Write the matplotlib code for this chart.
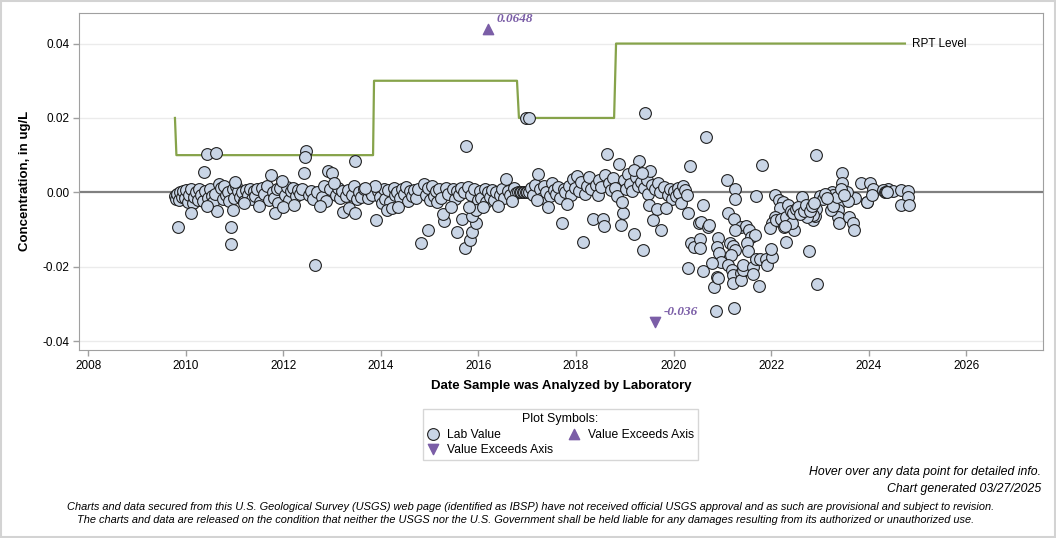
import numpy as np
import matplotlib.pyplot as plt
from matplotlib.patches import Rectangle

plt.rcParams['font.family'] = ['Liberation Sans', 'DejaVu Sans']

# lab values, ug/L, by decimal year of analysis
band_a_yr = [2009.78, 2009.80, 2009.83, 2009.86, 2009.89, 2009.92, 2009.95, 2009.98, 2010.01, 2010.04,
             2010.07, 2010.10, 2010.14, 2010.17, 2010.21, 2010.25, 2010.28, 2010.31, 2010.35, 2010.40,
             2010.46, 2010.50, 2010.53, 2010.57, 2010.60, 2010.68, 2010.72, 2010.76, 2010.79, 2010.83,
             2010.86, 2010.89, 2010.96, 2011.00, 2011.04, 2011.08, 2011.12, 2011.15, 2011.19, 2011.23,
             2011.27, 2011.31, 2011.35, 2011.39, 2011.43, 2011.47, 2011.53, 2011.57, 2011.61, 2011.66,
             2011.70, 2011.79, 2011.82, 2011.87, 2011.90, 2011.94, 2012.04, 2012.08, 2012.12, 2012.16,
             2012.20, 2012.26, 2012.30, 2012.34, 2012.38, 2012.52, 2012.56, 2012.60, 2012.70, 2012.80,
             2012.84, 2012.88, 2012.96, 2013.08, 2013.12, 2013.16, 2013.20, 2013.28, 2013.32, 2013.40,
             2013.44, 2013.52, 2013.56, 2013.60, 2013.65, 2013.73, 2013.77, 2013.81]
band_a_val = [-0.0010, -0.0018, -0.0005, -0.0020, 0.0000, -0.0012, 0.0004, -0.0015, 0.0006, -0.0025,
              -0.0008, 0.0010, -0.0030, -0.0012, 0.0002, -0.0020, 0.0008, -0.0006, -0.0022, 0.0003,
              -0.0015, 0.0008, -0.0010, -0.0025, -0.0005, 0.0022, 0.0012, -0.0018, 0.0016, -0.0008,
              0.0002, -0.0024, 0.0008, -0.0015, 0.0018, 0.0004, -0.0012, 0.0000, -0.0022, 0.0006,
              -0.0008, 0.0010, -0.0018, 0.0004, -0.0010, 0.0008, -0.0025, 0.0012, -0.0004, 0.0016,
              -0.0020, 0.0002, -0.0016, 0.0008, -0.0028, 0.0012, -0.0006, 0.0014, -0.0020, 0.0004,
              0.0012, -0.0010, 0.0006, -0.0004, 0.0008, -0.0006, 0.0004, -0.0018, 0.0002, -0.0012,
              0.0016, -0.0024, 0.0010, -0.0008, 0.0012, -0.0014, 0.0004, -0.0010, 0.0006, -0.0006,
              0.0016, -0.0018, 0.0002, -0.0012, 0.0008, -0.0014, 0.0004, -0.0008]

band_b_yr = [2013.94, 2013.98, 2014.02, 2014.06, 2014.09, 2014.15, 2014.18, 2014.26, 2014.30, 2014.33,
             2014.40, 2014.44, 2014.48, 2014.52, 2014.56, 2014.60, 2014.64, 2014.68, 2014.72, 2014.76,
             2014.88, 2014.92, 2014.96, 2015.00, 2015.04, 2015.08, 2015.12, 2015.16, 2015.20, 2015.24,
             2015.34, 2015.38, 2015.48, 2015.52, 2015.56, 2015.61, 2015.64, 2015.70, 2015.78, 2015.84,
             2015.90, 2015.99, 2016.03, 2016.06, 2016.13, 2016.16, 2016.20, 2016.24, 2016.28, 2016.32,
             2016.36, 2016.45, 2016.49, 2016.53, 2016.61, 2016.64, 2016.72, 2016.76,
             2016.82, 2016.85, 2016.88, 2016.91, 2016.94, 2016.97, 2017.00, 2017.03]
band_b_val = [0.0004, -0.0012, -0.0030, 0.0010, -0.0018, 0.0006, -0.0025, 0.0012, -0.0008, 0.0002,
              -0.0016, 0.0008, -0.0004, 0.0014, -0.0022, 0.0004, -0.0010, 0.0006, -0.0014, 0.0010,
              0.0022, -0.0006, 0.0012, -0.0020, 0.0016, -0.0010, 0.0004, -0.0026, 0.0008, -0.0014,
              0.0012, -0.0004, 0.0010, -0.0018, 0.0004, -0.0008, 0.0012, 0.0002, 0.0014, -0.0006,
              0.0010, -0.0020, 0.0004, -0.0014, 0.0008, -0.0026, 0.0000, -0.0012, 0.0006, -0.0020,
              0.0002, -0.0008, 0.0010, -0.0016, 0.0004, -0.0006, 0.0012, -0.0002,
              0.0, 0.0, 0.0, 0.0, 0.0, 0.0, 0.0, 0.0]

band_c_yr = [2017.08, 2017.12, 2017.15, 2017.27, 2017.31, 2017.35, 2017.39, 2017.47, 2017.51, 2017.55,
             2017.59, 2017.63, 2017.67, 2017.75, 2017.78, 2017.86, 2017.90, 2017.94, 2017.98, 2018.02,
             2018.06, 2018.10, 2018.18, 2018.22, 2018.26, 2018.30, 2018.40, 2018.44, 2018.48, 2018.52,
             2018.60, 2018.68, 2018.72, 2018.76, 2018.80, 2018.84, 2018.99, 2019.03, 2019.07, 2019.11,
             2019.14, 2019.22, 2019.26, 2019.33, 2019.40, 2019.45, 2019.48, 2019.55, 2019.61, 2019.68,
             2019.72, 2019.80, 2019.88, 2019.92, 2019.96, 2020.00, 2020.04, 2020.08, 2020.12, 2020.16,
             2020.20, 2020.24, 2020.28]
band_c_val = [0.0012, -0.0006, 0.0020, 0.0008, -0.0014, 0.0016, 0.0002, -0.0010, 0.0024, 0.0006,
              -0.0004, 0.0014, -0.0016, 0.0010, 0.0002, 0.0018, -0.0008, 0.0036, 0.0012, 0.0044,
              0.0004, 0.0028, -0.0004, 0.0016, 0.0040, 0.0008, 0.0020, -0.0006, 0.0034, 0.0014,
              0.0046, 0.0024, 0.0006, 0.0038, 0.0012, -0.0010, 0.0032, 0.0010, 0.0048, 0.0022,
              0.0004, 0.0040, 0.0018, 0.0028, 0.0012, 0.0032, -0.0004, 0.0020, 0.0008, 0.0024,
              0.0002, 0.0014, -0.0006, 0.0010, -0.0018, 0.0004, -0.0010, 0.0012, -0.0002, -0.0030,
              0.0016, 0.0006, -0.0008]

scatter_yr = [2009.85, 2010.44, 2010.62, 2010.38, 2010.93, 2010.92, 2010.10, 2010.65, 2010.98, 2010.44,
              2011.75, 2011.98, 2011.84, 2012.00, 2011.20, 2011.50, 2011.01, 2012.47, 2012.45, 2012.43,
              2013.48, 2012.92, 2012.99, 2013.04, 2012.65, 2013.90, 2012.75, 2013.23, 2013.35, 2013.46,
              2012.22, 2014.12, 2014.22, 2014.36, 2014.82, 2013.87, 2013.68, 2015.75, 2014.97, 2015.30,
              2015.28, 2015.44, 2015.57, 2015.67, 2015.73, 2015.83, 2015.87, 2015.95, 2015.86, 2015.95,
              2015.81, 2016.10, 2016.57, 2016.41, 2016.68, 2017.23, 2017.19, 2016.98, 2017.04, 2018.64,
              2018.89, 2019.30, 2019.42, 2020.34, 2019.18, 2019.52, 2019.36, 2017.71, 2018.14, 2018.35,
              2018.56, 2018.58, 2018.92, 2018.97, 2018.95, 2019.18, 2019.38, 2019.58, 2019.74, 2019.50,
              2019.65, 2019.84, 2017.82, 2017.43, 2020.67, 2021.82, 2021.10, 2021.25, 2021.25, 2021.69,
              2020.30, 2020.61, 2021.12, 2021.24, 2020.51, 2020.57, 2020.71, 2020.72, 2020.35, 2020.41,
              2020.54, 2020.54, 2020.30, 2020.61, 2020.82, 2020.88, 2020.91, 2020.87, 2021.24, 2020.90,
              2020.88, 2020.94, 2020.97, 2020.78, 2021.16, 2021.22, 2021.26, 2021.17, 2021.12, 2021.19,
              2021.21, 2021.22, 2021.38, 2021.39, 2021.43, 2021.43, 2021.63, 2021.62, 2021.75, 2021.38,
              2021.49, 2021.55, 2021.58, 2021.66, 2021.51, 2021.53, 2021.69, 2021.78, 2021.89, 2021.92,
              2022.01, 2021.99, 2021.26, 2022.08, 2022.15, 2022.25, 2022.17, 2022.07, 2022.01, 2021.98,
              2022.10, 2022.20, 2022.30, 2022.26, 2022.30, 2022.93, 2022.78, 2022.92, 2023.46, 2023.46,
              2023.36, 2023.36, 2023.36, 2023.38, 2023.60, 2023.68, 2023.70, 2023.96, 2023.22, 2023.27,
              2023.72, 2023.85, 2024.02, 2024.09, 2024.40, 2024.50, 2024.30, 2022.47, 2022.43, 2022.28,
              2022.86, 2022.90, 2022.92, 2022.85, 2022.74, 2022.64, 2022.64, 2023.00, 2023.07, 2023.24,
              2023.27, 2023.34, 2023.55, 2023.58, 2024.65, 2024.81, 2024.80, 2024.66, 2024.82, 2023.97,
              2024.06, 2022.35, 2022.40, 2022.45, 2022.50, 2022.55, 2022.60, 2022.68, 2022.72, 2022.80,
              2022.83, 2022.88, 2024.33, 2024.35, 2024.37, 2023.10, 2023.15, 2023.42, 2023.50]
scatter_val = [-0.0094, 0.0103, 0.0106, 0.0056, -0.0094, -0.0140, -0.0056, -0.0050, -0.0048, -0.0038,
               0.0046, 0.0031, -0.0056, -0.0040, -0.0030, -0.0038, 0.0028, 0.0110, 0.0094, 0.0051,
               0.0083, 0.0057, 0.0051, 0.0026, -0.0196, -0.0074, -0.0037, -0.0052, -0.0043, -0.0055,
               -0.0034, -0.0048, -0.0043, -0.0040, -0.0137, 0.0017, 0.0011, 0.0124, -0.0101, -0.0076,
               -0.0057, -0.0040, -0.0107, -0.0072, -0.0150, -0.0128, -0.0108, -0.0082, -0.0063, -0.0048,
               -0.0040, -0.0040, 0.0035, -0.0037, -0.0023, 0.0049, -0.0021, 0.0199, 0.0199, 0.0102,
               0.0076, 0.0084, 0.0212, 0.0071, 0.0060, 0.0057, 0.0051, -0.0083, -0.0134, -0.0072,
               -0.0072, -0.0090, -0.0089, -0.0056, -0.0026, -0.0113, -0.0156, -0.0074, -0.0101, -0.0035,
               -0.0046, -0.0043, -0.0032, -0.0039, 0.0148, 0.0073, 0.0032, 0.0008, -0.0017, -0.0010,
               -0.0056, -0.0035, -0.0055, -0.0073, -0.0082, -0.0080, -0.0092, -0.0089, -0.0137, -0.0146,
               -0.0126, -0.0150, -0.0204, -0.0212, -0.0254, -0.0227, -0.0230, -0.0320, -0.0312, -0.0124,
               -0.0146, -0.0162, -0.0187, -0.0191, -0.0137, -0.0144, -0.0155, -0.0169, -0.0195, -0.0209,
               -0.0222, -0.0245, -0.0218, -0.0236, -0.0209, -0.0195, -0.0200, -0.0220, -0.0252, -0.0092,
               -0.0090, -0.0101, -0.0119, -0.0115, -0.0135, -0.0157, -0.0178, -0.0178, -0.0180, -0.0195,
               -0.0173, -0.0153, -0.0101, -0.0007, -0.0020, -0.0025, -0.0043, -0.0066, -0.0083, -0.0097,
               -0.0074, -0.0073, -0.0066, -0.0092, -0.0133, -0.0247, -0.0158, 0.0100, 0.0053, 0.0026,
               -0.0034, -0.0048, -0.0066, -0.0082, -0.0066, -0.0082, -0.0101, -0.0025, -0.0048, -0.0037,
               -0.0015, 0.0024, 0.0024, 0.0008, 0.0008, 0.0004, 0.0006, -0.0101, -0.0082, -0.0091,
               -0.0074, -0.0063, -0.0045, -0.0061, -0.0067, -0.0046, -0.0013, -0.0010, -0.0019, 0.0002,
               -0.0007, -0.0013, 0.0002, -0.0023, 0.0006, 0.0003, -0.0013, -0.0034, -0.0034, -0.0025,
               -0.0007, -0.0035, -0.0050, -0.0055, -0.0045, -0.0040, -0.0058, -0.0050, -0.0035, -0.0050,
               -0.0038, -0.0028, 0.0, 0.0, 0.0, -0.0004, -0.0016, 0.0010, -0.0008]

# values beyond the axis range
up_yr, up_val, up_label = 2016.20, 0.0439, '0.0648'
down_yr, down_val, down_label = 2019.62, -0.0349, '-0.036'

# reporting level steps
rpt_yr = [2009.78, 2009.81, 2013.84, 2013.86, 2016.79, 2016.83, 2018.78, 2018.82, 2024.74]
rpt_val = [0.02, 0.01, 0.01, 0.03, 0.03, 0.02, 0.02, 0.04, 0.04]

years = np.array(band_a_yr + band_b_yr + band_c_yr + scatter_yr)
conc = np.array(band_a_val + band_b_val + band_c_val + scatter_val)

fig = plt.figure(figsize=(10.56, 5.38), dpi=100)
ax = fig.add_axes([0.0751, 0.3494, 0.9126, 0.6270])

for yv in [-0.04, -0.02, 0.02, 0.04]:
    ax.axhline(yv, color='#ebebeb', lw=1, zorder=0)
ax.axhline(0, color='#808080', lw=1.6, zorder=1)

ax.plot(rpt_yr, rpt_val, color='#86a34a', lw=1.6, zorder=2)
ax.text(rpt_yr[-1] + 0.15, rpt_val[-1], 'RPT Level', fontsize=8.5, va='center', ha='left')

ax.scatter(years, conc, s=72, facecolor='#c9d5e6', edgecolor='#222222', lw=0.8, zorder=3,
           label='Lab Value')
ax.scatter([down_yr], [down_val], marker='v', s=55, color='#7b5ea7', zorder=4,
           label='Value Exceeds Axis')
ax.scatter([up_yr], [up_val], marker='^', s=55, color='#7b5ea7', zorder=4,
           label='Value Exceeds Axis')
lab_font = dict(color='#7b5ea7', fontsize=9.5, fontweight='bold', fontstyle='italic',
                family='Liberation Serif')
ax.annotate(up_label, (up_yr, up_val), xytext=(6, 5), textcoords='offset points', **lab_font)
ax.annotate(down_label, (down_yr, down_val), xytext=(6, 5), textcoords='offset points', **lab_font)

ax.set_xlim(2007.82, 2027.57)
ax.set_ylim(-0.0424, 0.0483)
ax.set_xticks(range(2008, 2027, 2))
ax.set_yticks([-0.04, -0.02, 0.0, 0.02, 0.04])
ax.set_yticklabels(['-0.04', '-0.02', '0.00', '0.02', '0.04'])
ax.tick_params(colors='#a0a0a0', labelcolor='black', labelsize=8.5, length=4, width=1, pad=3)
for s in ax.spines.values():
    s.set_color('#a0a0a0')

ax.set_xlabel('Date Sample was Analyzed by Laboratory', fontsize=9.5, fontweight='bold')
ax.set_ylabel('Concentration, in ug/L', fontsize=9.5, fontweight='bold')
ax.xaxis.set_label_coords(0.5, -0.088)
ax.yaxis.set_label_coords(-0.050, 0.5)

leg = ax.legend(loc='center', bbox_to_anchor=(560.5 / 1056, 1 - 434.5 / 538),
                bbox_transform=fig.transFigure, ncol=2, title='Plot Symbols:',
                fontsize=8.7, title_fontsize=8.9, fancybox=False, handlelength=1,
                handletextpad=0.6, columnspacing=1.3, labelspacing=0.25, borderpad=0.35)
leg.get_frame().set_edgecolor('#cccccc')
leg.get_frame().set_linewidth(1)

foot = dict(fontstyle='italic', family=['Liberation Sans Narrow', 'Liberation Sans'])
fig.text(1041 / 1056, 1 - 472 / 538, 'Hover over any data point for detailed info.',
         ha='right', va='center', fontsize=8.8, **foot)
fig.text(1041 / 1056, 1 - 489 / 538, 'Chart generated 03/27/2025',
         ha='right', va='center', fontsize=8.8, **foot)
fig.text(531 / 1056, 1 - 507 / 538,
         'Charts and data secured from this U.S. Geological Survey (USGS) web page (identified as IBSP) '
         'have not received official USGS approval and as such are provisional and subject to revision.',
         ha='center', va='center', fontsize=7.95, **foot)
fig.text(526 / 1056, 1 - 520 / 538,
         'The charts and data are released on the condition that neither the USGS nor the U.S. Government '
         'shall be held liable for any damages resulting from its authorized or unauthorized use.',
         ha='center', va='center', fontsize=7.95, **foot)

fig.patches.append(Rectangle((0.001, 0.001), 0.998, 0.998, transform=fig.transFigure,
                             fill=False, edgecolor='#d3d3d3', lw=1.5))

fig.savefig('out.png', dpi=100)
